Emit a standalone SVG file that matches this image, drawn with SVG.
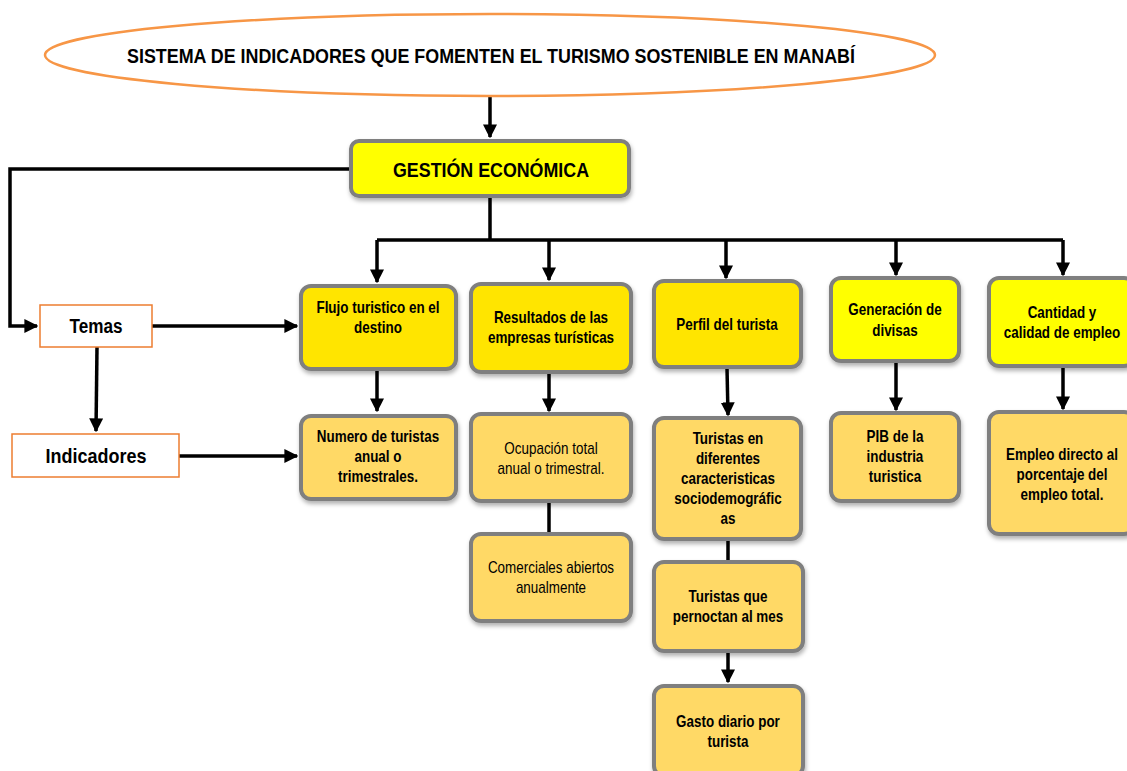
<svg xmlns="http://www.w3.org/2000/svg" width="1127" height="771" viewBox="0 0 1127 771">
<defs>
<marker id="ah" viewBox="0 0 10 10" refX="9" refY="5" markerWidth="4" markerHeight="4" markerUnits="strokeWidth" orient="auto">
<path d="M0,0 L10,5 L0,10 z" fill="#000"/>
</marker>
<filter id="sh" x="-10%" y="-10%" width="130%" height="130%">
<feDropShadow dx="1" dy="3" stdDeviation="2" flood-color="#000" flood-opacity="0.3"/>
</filter>
</defs>
<style>
text{font-family:"Liberation Sans",Arial,sans-serif;text-anchor:middle;fill:#000}
.b{font-weight:bold}
.t{font-size:16px}
.box{stroke:#7f7f7f;stroke-width:4;filter:url(#sh)}
.y1{fill:#FFFF00}
.y2{fill:#FFE500}
.o{fill:#FFD966}
.lab{fill:#fff;stroke:#ED7D31;stroke-width:1.5}
.c{fill:none;stroke:#000;stroke-width:3.5}
</style>
<g id="connectors">
<path class="c" d="M490,96 V137" marker-end="url(#ah)"/>
<path class="c" d="M490,197 V240 M377,240 H1063"/>
<path class="c" d="M377,240 V282" marker-end="url(#ah)"/>
<path class="c" d="M549,240 V280" marker-end="url(#ah)"/>
<path class="c" d="M726,240 V278" marker-end="url(#ah)"/>
<path class="c" d="M896,240 V275" marker-end="url(#ah)"/>
<path class="c" d="M1063,240 V275" marker-end="url(#ah)"/>
<path class="c" d="M350,169 H10 V326 H37" marker-end="url(#ah)"/>
<path class="c" d="M152,326 H297" marker-end="url(#ah)"/>
<path class="c" d="M97,347 L96,431" marker-end="url(#ah)"/>
<path class="c" d="M179,456 H297" marker-end="url(#ah)"/>
<path class="c" d="M377,370 V411" marker-end="url(#ah)"/>
<path class="c" d="M549,373 V411" marker-end="url(#ah)"/>
<path class="c" d="M549,502 V533"/>
<path class="c" d="M727,368 L728,415" marker-end="url(#ah)"/>
<path class="c" d="M728,540 V561"/>
<path class="c" d="M728,652 V682" marker-end="url(#ah)"/>
<path class="c" d="M896,362 V410" marker-end="url(#ah)"/>
<path class="c" d="M1063,367 V409" marker-end="url(#ah)"/>
</g>
<g id="title">
<ellipse cx="490" cy="55" rx="445" ry="41" fill="#fff" stroke="#F79646" stroke-width="2.5"/>
<text class="b" x="491" y="63" font-size="20" textLength="728" lengthAdjust="spacingAndGlyphs">SISTEMA DE INDICADORES QUE FOMENTEN EL TURISMO SOSTENIBLE EN MANABÍ</text>
</g>
<g id="gestion">
<rect class="box y1" x="351" y="141" width="278" height="55" rx="8"/>
<text class="b" x="491" y="177" font-size="20" textLength="196" lengthAdjust="spacingAndGlyphs">GESTIÓN ECONÓMICA</text>
</g>
<g id="temas">
<rect class="lab" x="40" y="305" width="112" height="42"/>
<text class="b" x="96" y="333" font-size="20" textLength="53" lengthAdjust="spacingAndGlyphs">Temas</text>
</g>
<g id="indicadores">
<rect class="lab" x="12" y="434" width="167" height="43"/>
<text class="b" x="96" y="463" font-size="21" textLength="101" lengthAdjust="spacingAndGlyphs">Indicadores</text>
</g>
<g id="flujo">
<rect class="box y2" x="301" y="286" width="155" height="83" rx="10"/>
<g transform="matrix(0.84 0 0 1 60.48 0)">
<text class="b t" x="378" y="313">Flujo turistico en el</text>
<text class="b t" x="378" y="333">destino</text>
</g>
</g>
<g id="resultados">
<rect class="box y2" x="471" y="284" width="160" height="88" rx="10"/>
<g transform="matrix(0.84 0 0 1 88.16 0)">
<text class="b t" x="551" y="323">Resultados de las</text>
<text class="b t" x="551" y="343">empresas turísticas</text>
</g>
</g>
<g id="perfil">
<rect class="box y2" x="654" y="281" width="147" height="86" rx="10"/>
<g transform="matrix(0.84 0 0 1 116.32 0)">
<text class="b t" x="727" y="330">Perfil del turista</text>
</g>
</g>
<g id="generacion">
<rect class="box y1" x="831" y="278" width="128" height="83" rx="10"/>
<g transform="matrix(0.84 0 0 1 143.2 0)">
<text class="b t" x="895" y="315">Generación de</text>
<text class="b t" x="895" y="336">divisas</text>
</g>
</g>
<g id="cantidad">
<rect class="box y1" x="989" y="278" width="145" height="88" rx="10"/>
<g transform="matrix(0.84 0 0 1 169.92 0)">
<text class="b t" x="1062" y="318">Cantidad y</text>
<text class="b t" x="1062" y="338">calidad de empleo</text>
</g>
</g>
<g id="numero">
<rect class="box o" x="301" y="416" width="155" height="83" rx="10"/>
<g transform="matrix(0.84 0 0 1 60.48 0)">
<text class="b t" x="378" y="442">Numero de turistas</text>
<text class="b t" x="378" y="462">anual o</text>
<text class="b t" x="378" y="482">trimestrales.</text>
</g>
</g>
<g id="ocupacion">
<rect class="box o" x="471" y="414" width="160" height="87" rx="10"/>
<g transform="matrix(0.84 0 0 1 88.16 0)">
<text class="t" x="551" y="454">Ocupación total</text>
<text class="t" x="551" y="474">anual o trimestral.</text>
</g>
</g>
<g id="comerciales">
<rect class="box o" x="471" y="534" width="160" height="87" rx="10"/>
<g transform="matrix(0.84 0 0 1 88.16 0)">
<text class="t" x="551" y="573">Comerciales abiertos</text>
<text class="t" x="551" y="593">anualmente</text>
</g>
</g>
<g id="turistas-en">
<rect class="box o" x="654" y="418" width="147" height="121" rx="10"/>
<g transform="matrix(0.84 0 0 1 116.48 0)">
<text class="b t" x="728" y="444">Turistas en</text>
<text class="b t" x="728" y="464">diferentes</text>
<text class="b t" x="728" y="484">caracteristicas</text>
<text class="b t" x="728" y="504">sociodemográfic</text>
<text class="b t" x="728" y="524">as</text>
</g>
</g>
<g id="turistas-que">
<rect class="box o" x="654" y="562" width="149" height="89" rx="10"/>
<g transform="matrix(0.84 0 0 1 116.48 0)">
<text class="b t" x="728" y="602">Turistas que</text>
<text class="b t" x="728" y="622">pernoctan al mes</text>
</g>
</g>
<g id="gasto">
<rect class="box o" x="654" y="686" width="149" height="90" rx="10"/>
<g transform="matrix(0.84 0 0 1 116.48 0)">
<text class="b t" x="728" y="727">Gasto diario por</text>
<text class="b t" x="728" y="747">turista</text>
</g>
</g>
<g id="pib">
<rect class="box o" x="831" y="413" width="128" height="88" rx="10"/>
<g transform="matrix(0.84 0 0 1 143.2 0)">
<text class="b t" x="895" y="442">PIB de la</text>
<text class="b t" x="895" y="462">industria</text>
<text class="b t" x="895" y="482">turistica</text>
</g>
</g>
<g id="empleo">
<rect class="box o" x="989" y="412" width="145" height="122" rx="10"/>
<g transform="matrix(0.84 0 0 1 169.92 0)">
<text class="b t" x="1062" y="460">Empleo directo al</text>
<text class="b t" x="1062" y="480">porcentaje del</text>
<text class="b t" x="1062" y="500">empleo total.</text>
</g>
</g>
</svg>
